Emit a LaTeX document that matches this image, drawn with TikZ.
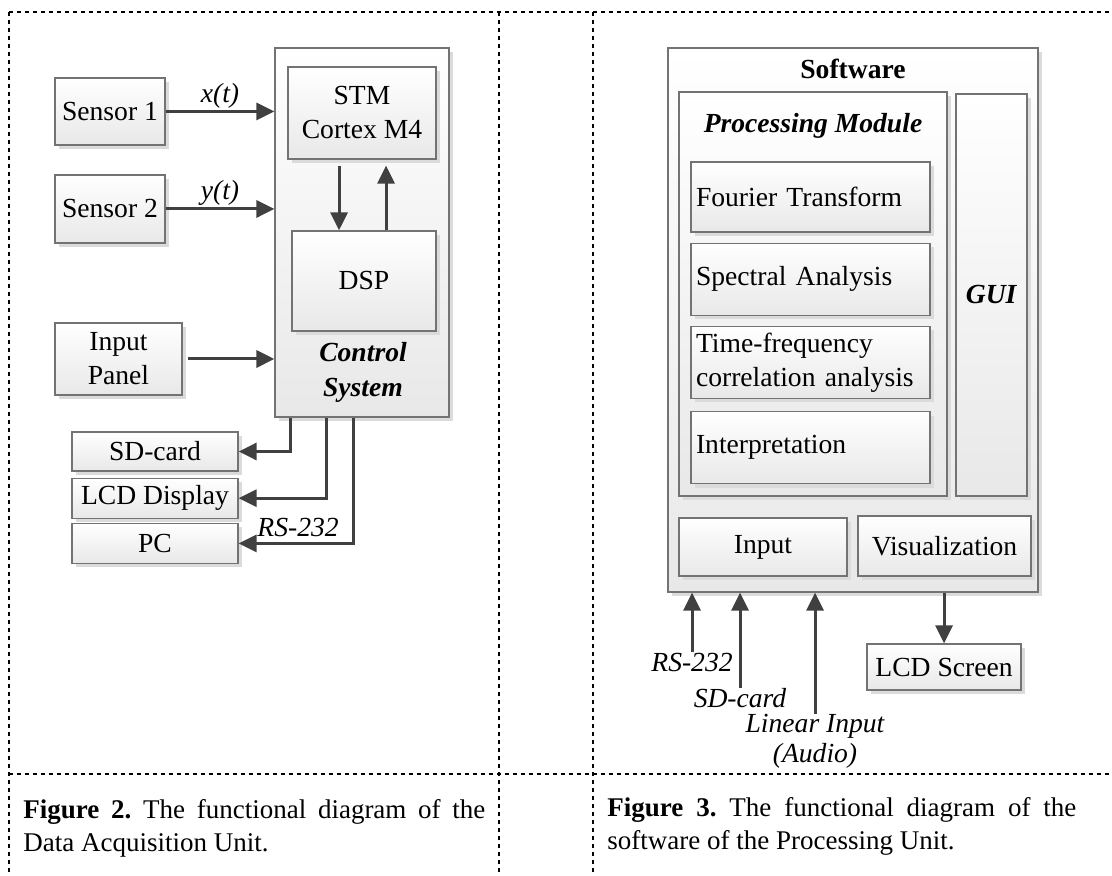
\documentclass[tikz,border=0pt]{standalone}
\usepackage{fontspec}
\setmainfont{Liberation Serif}
\usepackage{tikz}
\usetikzlibrary{arrows.meta}
\usetikzlibrary{shadows}
\usetikzlibrary{positioning}
\frenchspacing

\begin{document}
\begin{tikzpicture}[x=0.5pt,y=-0.5pt,
    font=\fontsize{13.8}{17}\selectfont,
    blk/.style={draw=black!55,line width=0.6pt,top color=white,bottom color=black!9,
      drop shadow={shadow xshift=2pt,shadow yshift=-2pt,fill=black!14,opacity=1},
      inner sep=2pt,align=center},
    sub/.style={blk,minimum width=119.5pt,minimum height=36pt,text width=114.5pt,align=left},
    conn/.style={draw=black!75,line width=1.5pt,-{Triangle[length=9pt,width=8.5pt]}},
    dashline/.style={line width=1pt,dash pattern=on 2pt off 2pt},
    lbl/.style={font=\fontsize{13.8}{15}\selectfont\itshape,inner sep=0pt},
    captxt/.style={font=\fontsize{13.5}{16.5}\selectfont,anchor=north west,inner sep=0pt,align=left}]

  \useasboundingbox (0,0) rectangle (1112,876);

  % dashed frame
  \draw[dashline] (9,12) -- (1112,12);
  \draw[dashline] (9,774) -- (1112,774);
  \foreach \x in {9,499,593}
    \draw[dashline] (\x,12) -- (\x,876);

  % data acquisition unit
  \node[blk,minimum width=87pt,minimum height=184.5pt] (ctrl) at (362,232.5) {};
  \node[blk,minimum width=74pt,minimum height=46pt] (stm) at (362,113) {STM\\Cortex M4};
  \node[blk,minimum width=72pt,minimum height=50pt] (dsp) at (364,281) {DSP};
  \node[font=\fontsize{13.8}{17.5}\selectfont\bfseries\itshape,align=center] (ctrltxt) at (363,372) {Control\\System};

  \node[blk,minimum width=55pt,minimum height=33.5pt] (sen1) at (110,111.5) {Sensor 1};
  \node[blk,minimum width=55pt,minimum height=34pt] (sen2) at (110,209) {Sensor 2};
  \node[blk,minimum width=63.5pt,minimum height=36pt] (inp) at (118.5,359) {Input\\Panel};

  \node[blk,minimum width=83pt,minimum height=19.5pt] (sd) at (155,451.5) {SD-card};
  \node[blk,minimum width=83pt,minimum height=20pt,below=3pt of sd] (lcd) {LCD Display};
  \node[blk,minimum width=83pt,minimum height=20pt,below=2pt of lcd] (pc) {PC};

  \draw[conn] (sen1.east) -- (sen1.east -| ctrl.west) node[lbl,midway,above=1pt] {x(t)};
  \draw[conn] (sen2.east) -- (sen2.east -| ctrl.west) node[lbl,midway,above=1pt] {y(t)};
  \draw[conn,shorten <=2.5pt] (inp.east) -- (inp.east -| ctrl.west);

  \draw[conn,shorten <=3pt] ([xshift=-11.5pt]stm.south) -- ([xshift=-11.5pt]stm.south |- dsp.north);
  \draw[conn,shorten >=3pt] ([xshift=12pt]stm.south |- dsp.north) -- ([xshift=12pt]stm.south);

  \draw[conn] ([xshift=-36pt]ctrl.south) |- (sd.east);
  \draw[conn] ([xshift=-18pt]ctrl.south) |- (lcd.east);
  \draw[conn] ([xshift=-4.5pt]ctrl.south) |- (pc.east) node[lbl,pos=0.74,above=2.5pt] {RS-232};

  % processing unit software
  \node[blk,minimum width=185pt,minimum height=272pt] (sw) at (853,320) {};
  \node[font=\fontsize{13.8}{17}\selectfont\bfseries] (swtxt) at (853,69) {Software};
  \node[blk,minimum width=134pt,minimum height=202pt] (proc) at (813,294) {};
  \node[font=\fontsize{13.8}{17}\selectfont\bfseries\itshape] (proctxt) at (813,126) {Processing Module};
  \node[blk,minimum width=35.5pt,minimum height=201pt] (gui) at (991.5,295) {\textbf{\textit{GUI}}};

  \node[sub,minimum height=35pt] (ft) at (810.5,197) {Fourier Transform};
  \node[sub,below=5pt of ft] (sa) {Spectral Analysis};
  \node[sub,below=5pt of sa] (tf) {Time-frequency\\correlation analysis};
  \node[sub,below=6pt of tf] (interp) {Interpretation};

  \node[blk,minimum width=84pt,minimum height=29pt] (inbox) at (763,547) {Input};
  \node[blk,minimum width=86.5pt,minimum height=30pt] (vis) at (944.5,546) {Visualization};
  \node[blk,minimum width=77pt,minimum height=23pt] (scr) at (944,667) {LCD Screen};

  \node[lbl] (rs) at (692,662) {RS-232};
  \node[lbl] (sdc) at (740,698) {SD-card};
  \node[lbl,align=center] (lin) at (815,741) {Linear Input\\(Audio)};

  \draw[conn] (rs.north) -- (rs.north |- sw.south);
  \draw[conn] (sdc.north) -- (sdc.north |- sw.south);
  \draw[conn] (lin.north) -- (lin.north |- sw.south);
  \draw[conn] (sw.south -| scr.north) -- (scr.north);

  % captions
  \node[captxt] (cap2) at (23,799) {\makebox[231pt][s]{\textbf{Figure 2.} The functional diagram of the}\\Data Acquisition Unit.};
  \node[captxt] (cap3) at (607,797) {\makebox[234.5pt][s]{\textbf{Figure 3.} The functional diagram of the}\\software of the Processing Unit.};

\end{tikzpicture}
\end{document}
